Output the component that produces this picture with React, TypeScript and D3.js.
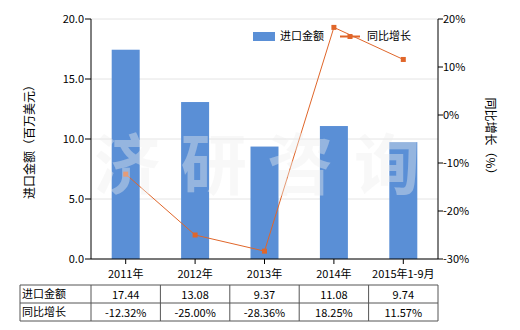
import React from "react";
import * as d3 from "d3";

const categories = ["2011年", "2012年", "2013年", "2014年", "2015年1-9月"];
const importValues = [17.44, 13.08, 9.37, 11.08, 9.74];
const growthValues = [-12.32, -25.0, -28.36, 18.25, 11.57];
const importLabels = ["17.44", "13.08", "9.37", "11.08", "9.74"];
const growthLabels = ["-12.32%", "-25.00%", "-28.36%", "18.25%", "11.57%"];
const leftTicks = [0, 5, 10, 15, 20];
const rightTicks = [-30, -20, -10, 0, 10, 20];
const watermarkChars = ["济", "研", "咨", "询"];

const FONT = "'Noto Sans CJK SC', 'Noto Sans', sans-serif";

export default function App() {
  const W = 520, H = 330;
  const left = 91, right = 438, top = 19, bottom = 259;
  const x = d3.scaleBand<string>().domain(categories).range([left, right]).paddingInner(0).paddingOuter(0);
  const yL = d3.scaleLinear().domain([0, 20]).range([bottom, top]);
  const yR = d3.scaleLinear().domain([-30, 20]).range([bottom, top]);
  const barW = 28;
  const barColor = "#5a8fd6";
  const lineColor = "#e0662a";
  const line = d3.line<number>().x((_, i) => (x(categories[i]) as number) + x.bandwidth() / 2).y((d) => yR(d));
  const tableLeft = 20;
  const rowY = [285, 303, 321];
  const colXs = [tableLeft, ...categories.map((c) => x(c) as number), right];
  const wm = d3.scalePoint<string>().domain(watermarkChars).range([127, 387]);

  return (
    <svg width={W} height={H} style={{ position: "absolute", left: 0, top: 0, fontFamily: FONT }}>
      <rect width={W} height={H} fill="#fff" />
      {/* grid */}
      {leftTicks.map((t) => (
        <line key={"g" + t} x1={left} x2={right} y1={yL(t)} y2={yL(t)} stroke="#e4e4e4" strokeWidth={1} />
      ))}
      {/* bars */}
      {importValues.map((v, i) => {
        const cx = (x(categories[i]) as number) + x.bandwidth() / 2;
        return <rect key={"b" + i} x={cx - barW / 2} y={yL(v)} width={barW} height={bottom - yL(v)} fill={barColor} />;
      })}
      {/* line */}
      <path d={line(growthValues) || ""} fill="none" stroke={lineColor} strokeWidth={1} />
      {growthValues.map((v, i) => {
        const cx = (x(categories[i]) as number) + x.bandwidth() / 2;
        return <rect key={"m" + i} x={cx - 2.5} y={yR(v) - 2.5} width={5} height={5} fill={lineColor} />;
      })}
      {/* watermark */}
      {watermarkChars.map((ch) => (
        <text key={"w" + ch} x={wm(ch)} y={166} dy="0.35em" textAnchor="middle" fontSize={66} fontWeight="bold" fill="rgb(238,238,238)" fillOpacity={0.4}>{ch}</text>
      ))}
      {/* axes */}
      <line x1={left} x2={left} y1={top} y2={bottom} stroke="#000" />
      <line x1={right} x2={right} y1={top} y2={bottom} stroke="#000" />
      <line x1={left} x2={right} y1={bottom} y2={bottom} stroke="#000" />
      {leftTicks.map((t) => (
        <g key={"lt" + t}>
          <line x1={left - 6} x2={left} y1={yL(t)} y2={yL(t)} stroke="#000" />
          <text x={left - 7} y={yL(t)} dy="0.35em" textAnchor="end" fontSize={11} fill="#000">{t.toFixed(1)}</text>
        </g>
      ))}
      {rightTicks.map((t) => (
        <g key={"rt" + t}>
          <line x1={right} x2={right + 5} y1={yR(t)} y2={yR(t)} stroke="#000" />
          <text x={right + 5} y={yR(t)} dy="0.35em" textAnchor="start" fontSize={11} fill="#000">{t + "%"}</text>
        </g>
      ))}
      {categories.map((c) => {
        const cx = (x(c) as number) + x.bandwidth() / 2;
        return (
          <g key={"xt" + c}>
            <line x1={cx} x2={cx} y1={bottom} y2={bottom + 5} stroke="#000" />
            <text x={cx} y={bottom + 15} dy="0.35em" textAnchor="middle" fontSize={11} fill="#000">{c}</text>
          </g>
        );
      })}
      {/* axis titles */}
      <text transform={`translate(30,${(top + bottom) / 2}) rotate(-90)`} textAnchor="middle" dy="0.35em" fontSize={12} fill="#000">进口金额（百万美元）</text>
      <text transform={`translate(490,${(top + bottom) / 2}) rotate(90)`} textAnchor="middle" dy="0.35em" fontSize={12} fill="#000">同比增长（%）</text>
      {/* legend */}
      <rect x={253} y={32} width={22} height={9} fill={barColor} />
      <text x={280} y={36.5} dy="0.35em" fontSize={11} fill="#000">进口金额</text>
      <line x1={340} x2={360} y1={36.5} y2={36.5} stroke={lineColor} strokeWidth={2} />
      <rect x={347.5} y={34} width={5} height={5} fill={lineColor} />
      <text x={367} y={36.5} dy="0.35em" fontSize={11} fill="#000">同比增长</text>
      {/* table */}
      {rowY.map((yy) => (
        <line key={"tr" + yy} x1={tableLeft} x2={right} y1={yy} y2={yy} stroke="#555" />
      ))}
      {colXs.map((xx, i) => (
        <line key={"tc" + i} x1={xx} x2={xx} y1={rowY[0]} y2={rowY[2]} stroke="#555" />
      ))}
      <text x={tableLeft + 2} y={(rowY[0] + rowY[1]) / 2} dy="0.35em" fontSize={11} fill="#000">进口金额</text>
      <text x={tableLeft + 2} y={(rowY[1] + rowY[2]) / 2} dy="0.35em" fontSize={11} fill="#000">同比增长</text>
      {categories.map((c, i) => {
        const cx = (x(c) as number) + x.bandwidth() / 2;
        return (
          <g key={"tv" + i}>
            <text x={cx} y={(rowY[0] + rowY[1]) / 2 + 1} dy="0.35em" textAnchor="middle" fontSize={11} fill="#000">{importLabels[i]}</text>
            <text x={cx} y={(rowY[1] + rowY[2]) / 2 + 1} dy="0.35em" textAnchor="middle" fontSize={11} fill="#000">{growthLabels[i]}</text>
          </g>
        );
      })}
    </svg>
  );
}
